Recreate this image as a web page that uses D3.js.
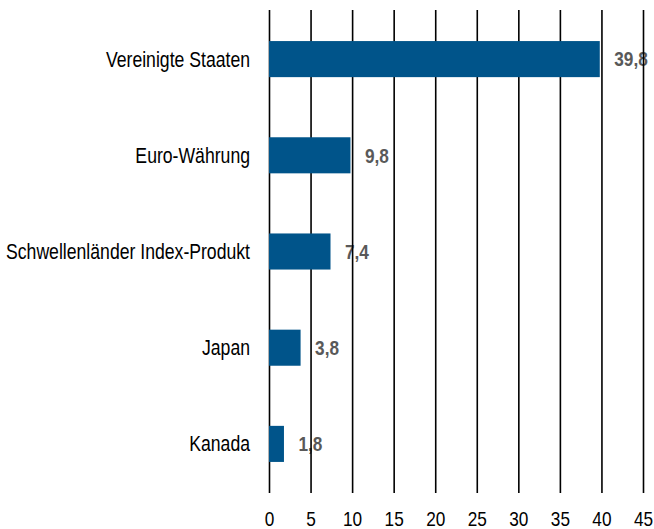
<!DOCTYPE html>
<html>
<head>
<meta charset="utf-8">
<script src="https://cdn.jsdelivr.net/npm/d3@7"></script>
<style>
  html, body { margin: 0; padding: 0; background: #fff; }
  svg { display: block; }
</style>
</head>
<body>
<svg id="chart" width="654" height="529"></svg>
<script>
// Anteile nach Region / Währung (in %)
const categories = [
  "Vereinigte Staaten",
  "Euro-Währung",
  "Schwellenländer Index-Produkt",
  "Japan",
  "Kanada"
];
const values = [39.8, 9.8, 7.4, 3.8, 1.8];
const tickValues = [0, 5, 10, 15, 20, 25, 30, 35, 40, 45];

// Use a narrow sans if it is installed, otherwise squeeze the regular one.
const narrowAvailable = (() => {
  const ctx = document.createElement("canvas").getContext("2d");
  const probe = "Vereinigte Staaten 0123456789";
  ctx.font = "20px 'Liberation Sans Narrow', monospace";
  const a = ctx.measureText(probe).width;
  ctx.font = "20px monospace";
  const b = ctx.measureText(probe).width;
  return Math.abs(a - b) > 0.5;
})();
const family = narrowAvailable ? "'Liberation Sans Narrow', 'Arial Narrow', sans-serif"
                               : "'Liberation Sans', Arial, sans-serif";
const squeeze = narrowAvailable ? 1 : 0.82;
const squeezeT = `scale(${squeeze},1)`;

const svg = d3.select("#chart");
const plotTop = 10, plotBottom = 493;

const x = d3.scaleLinear().domain([0, 45]).range([269, 643]);
const y = d3.scaleBand()
  .domain(categories)
  .range([11, 492])
  .paddingInner(0.625)
  .paddingOuter(0.3125);

const fmt = v => v.toFixed(1).replace(".", ",");

// Category labels on the left
svg.append("g")
  .selectAll("g")
  .data(categories)
  .join("g")
  .attr("transform", d => `translate(250,${y(d) + y.bandwidth() / 2})`)
  .append("text")
  .attr("transform", squeezeT)
  .attr("text-anchor", "end")
  .attr("dy", "0.35em")
  .style("font-family", family)
  .style("font-size", "21.5px")
  .style("fill", "#000")
  .text(d => d);

// Value labels (drawn beneath the grid lines)
svg.append("g")
  .selectAll("g")
  .data(values)
  .join("g")
  .attr("transform", (d, i) => `translate(${x(d) + 14.5},${y(categories[i]) + y.bandwidth() / 2})`)
  .append("text")
  .attr("transform", squeezeT)
  .attr("dy", "0.35em")
  .style("font-family", family)
  .style("font-size", "21px")
  .style("font-weight", "bold")
  .style("fill", "#595959")
  .text(d => fmt(d));

// Vertical grid lines and tick labels
const axis = d3.axisBottom(x)
  .tickValues(tickValues)
  .tickSizeInner(-(plotBottom - plotTop))
  .tickSizeOuter(0)
  .tickPadding(18)
  .tickFormat(d3.format("d"));

const gAxis = svg.append("g")
  .attr("transform", `translate(0,${plotBottom})`)
  .call(axis);
gAxis.select(".domain").remove();
gAxis.selectAll(".tick line")
  .attr("stroke", "#000")
  .attr("stroke-width", 1.6);
gAxis.selectAll(".tick text")
  .attr("transform", squeezeT)
  .style("font-family", family)
  .style("font-size", "21px")
  .style("fill", "#000");

// Bars
svg.append("g")
  .selectAll("rect")
  .data(values)
  .join("rect")
  .attr("x", x(0))
  .attr("y", (d, i) => y(categories[i]))
  .attr("width", d => x(d) - x(0))
  .attr("height", y.bandwidth())
  .attr("fill", "#00548A");
</script>
</body>
</html>
